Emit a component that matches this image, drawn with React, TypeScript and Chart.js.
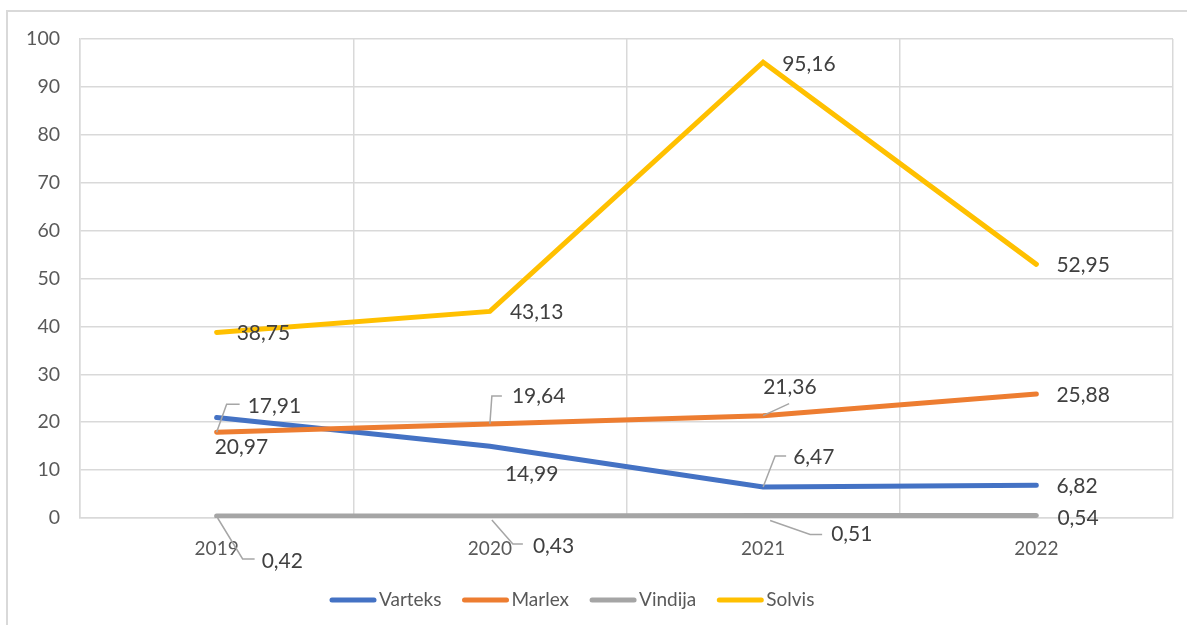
import React, { useEffect, useRef } from "react";
import { Chart, registerables } from "chart.js";

Chart.register(...registerables);

// ---------- data ----------
const years = ["2019", "2020", "2021", "2022"];
const varteks = [20.97, 14.99, 6.47, 6.82];
const marlex = [17.91, 19.64, 21.36, 25.88];
const vindija = [0.42, 0.43, 0.51, 0.54];
const solvis = [38.75, 43.13, 95.16, 52.95];
const yMin = 0;
const yMax = 100;
const yStep = 10;

const seriesNames = ["Varteks", "Marlex", "Vindija", "Solvis"];
const seriesColors = ["#4472C4", "#ED7D31", "#A5A5A5", "#FFC000"];
const seriesValues = [varteks, marlex, vindija, solvis];

// ---------- label placement (offset of label's left/middle from the point, leader path) ----------
type Place = { dx: number; dy: number; leader?: number[][] };
const R: Place = { dx: 20, dy: 1 };
const labelPlaces: Place[][] = [
  // Varteks
  [
    { dx: -2, dy: 30 },
    { dx: 15, dy: 28 },
    { dx: 30, dy: -30, leader: [[0, 0], [12, -31], [23, -31]] },
    R,
  ],
  // Marlex
  [
    { dx: 31, dy: -26, leader: [[0, 0], [10, -28], [23, -28]] },
    { dx: 22, dy: -28, leader: [[0, 0], [2, -28], [12, -28]] },
    { dx: 0, dy: -28, leader: [[0, 0], [26, -12]] },
    R,
  ],
  // Vindija
  [
    { dx: 45, dy: 45, leader: [[1, 2], [26, 43], [38, 43]] },
    { dx: 43, dy: 30, leader: [[2, 4], [23, 28], [33, 28]] },
    { dx: 68, dy: 19, leader: [[7, 5], [47, 19], [59, 19]] },
    { dx: 21, dy: 3 },
  ],
  // Solvis
  [R, R, { dx: 19, dy: 2 }, R],
];

const FONT = "Lato, 'Open Sans', sans-serif";
const fmt = (v: number) => v.toFixed(2).replace(".", ",");

const decorPlugin = {
  id: "decor",
  beforeDraw(chart: any) {
    const ctx = chart.ctx;
    ctx.save();
    ctx.fillStyle = "#ffffff";
    ctx.fillRect(0, 0, chart.width, chart.height);
    ctx.strokeStyle = "#d9d9d9";
    ctx.lineWidth = 2;
    ctx.beginPath();
    ctx.moveTo(7, chart.height);
    ctx.lineTo(7, 11);
    ctx.lineTo(chart.width, 11);
    ctx.stroke();
    ctx.restore();
  },
  afterDatasetsDraw(chart: any) {
    const ctx = chart.ctx;
    ctx.save();
    // data labels with leader lines
    ctx.font = `21px ${FONT}`;
    ctx.textBaseline = "middle";
    ctx.textAlign = "left";
    seriesValues.forEach((vals, si) => {
      const meta = chart.getDatasetMeta(si);
      vals.forEach((v, i) => {
        const el = meta.data[i];
        const p = labelPlaces[si][i];
        if (p.leader) {
          ctx.strokeStyle = "#A6A6A6";
          ctx.lineWidth = 1.5;
          ctx.beginPath();
          p.leader.forEach((pt, k) => {
            const x = el.x + pt[0];
            const y = el.y + pt[1];
            if (k === 0) ctx.moveTo(x, y);
            else ctx.lineTo(x, y);
          });
          ctx.stroke();
        }
        ctx.fillStyle = "#404040";
        ctx.fillText(fmt(v), el.x + p.dx, el.y + p.dy);
      });
    });

    // legend
    ctx.font = `19px ${FONT}`;
    ctx.fillStyle = "#595959";
    let x = 330;
    const ly = 600;
    seriesNames.forEach((name, si) => {
      ctx.strokeStyle = seriesColors[si];
      ctx.lineWidth = 5;
      ctx.lineCap = "round";
      ctx.beginPath();
      ctx.moveTo(x + 2, ly);
      ctx.lineTo(x + 44, ly);
      ctx.stroke();
      ctx.fillStyle = "#595959";
      ctx.fillText(name, x + 49, ly);
      x += 49 + ctx.measureText(name).width + 21;
    });
    ctx.restore();
  },
};

export default function App() {
  const ref = useRef<HTMLCanvasElement | null>(null);

  useEffect(() => {
    if (!ref.current) return;
    const chart = new Chart(ref.current, {
      type: "line",
      data: {
        labels: years,
        datasets: seriesNames.map((name, si) => ({
          label: name,
          data: seriesValues[si],
          borderColor: seriesColors[si],
          backgroundColor: seriesColors[si],
          borderWidth: 5,
          borderCapStyle: "round" as const,
          borderJoinStyle: "miter" as const,
          pointRadius: 0,
          pointHoverRadius: 0,
          tension: 0,
          fill: false,
          order: 4 - si,
        })),
      },
      options: {
        animation: false,
        responsive: false,
        events: [],
        layout: { padding: { left: 0, top: 39, right: 14, bottom: 57 } },
        plugins: {
          legend: { display: false },
          tooltip: { enabled: false },
          title: { display: false },
        },
        scales: {
          x: {
            type: "category",
            offset: true,
            grid: { offset: true, color: "#d9d9d9", lineWidth: 1.5, drawTicks: false },
            border: { color: "#d9d9d9", width: 1.5 },
            ticks: { color: "#595959", font: { family: FONT, size: 19 }, padding: 19, maxRotation: 0 },
            afterFit: (s: any) => {
              s.height = 50;
            },
          },
          y: {
            min: yMin,
            max: yMax,
            grid: { color: "#d9d9d9", lineWidth: 1.5, drawTicks: false },
            border: { color: "#d9d9d9", width: 1.5 },
            ticks: { stepSize: yStep, color: "#595959", font: { family: FONT, size: 19.5 }, padding: 20 },
            afterFit: (s: any) => {
              s.width = 80;
            },
          },
        },
      },
      plugins: [decorPlugin],
    });
    return () => chart.destroy();
  }, []);

  return (
    <canvas
      ref={ref}
      width={1187}
      height={625}
      style={{ position: "fixed", left: 0, top: 0, display: "block", width: 1187, height: 625 }}
    />
  );
}
